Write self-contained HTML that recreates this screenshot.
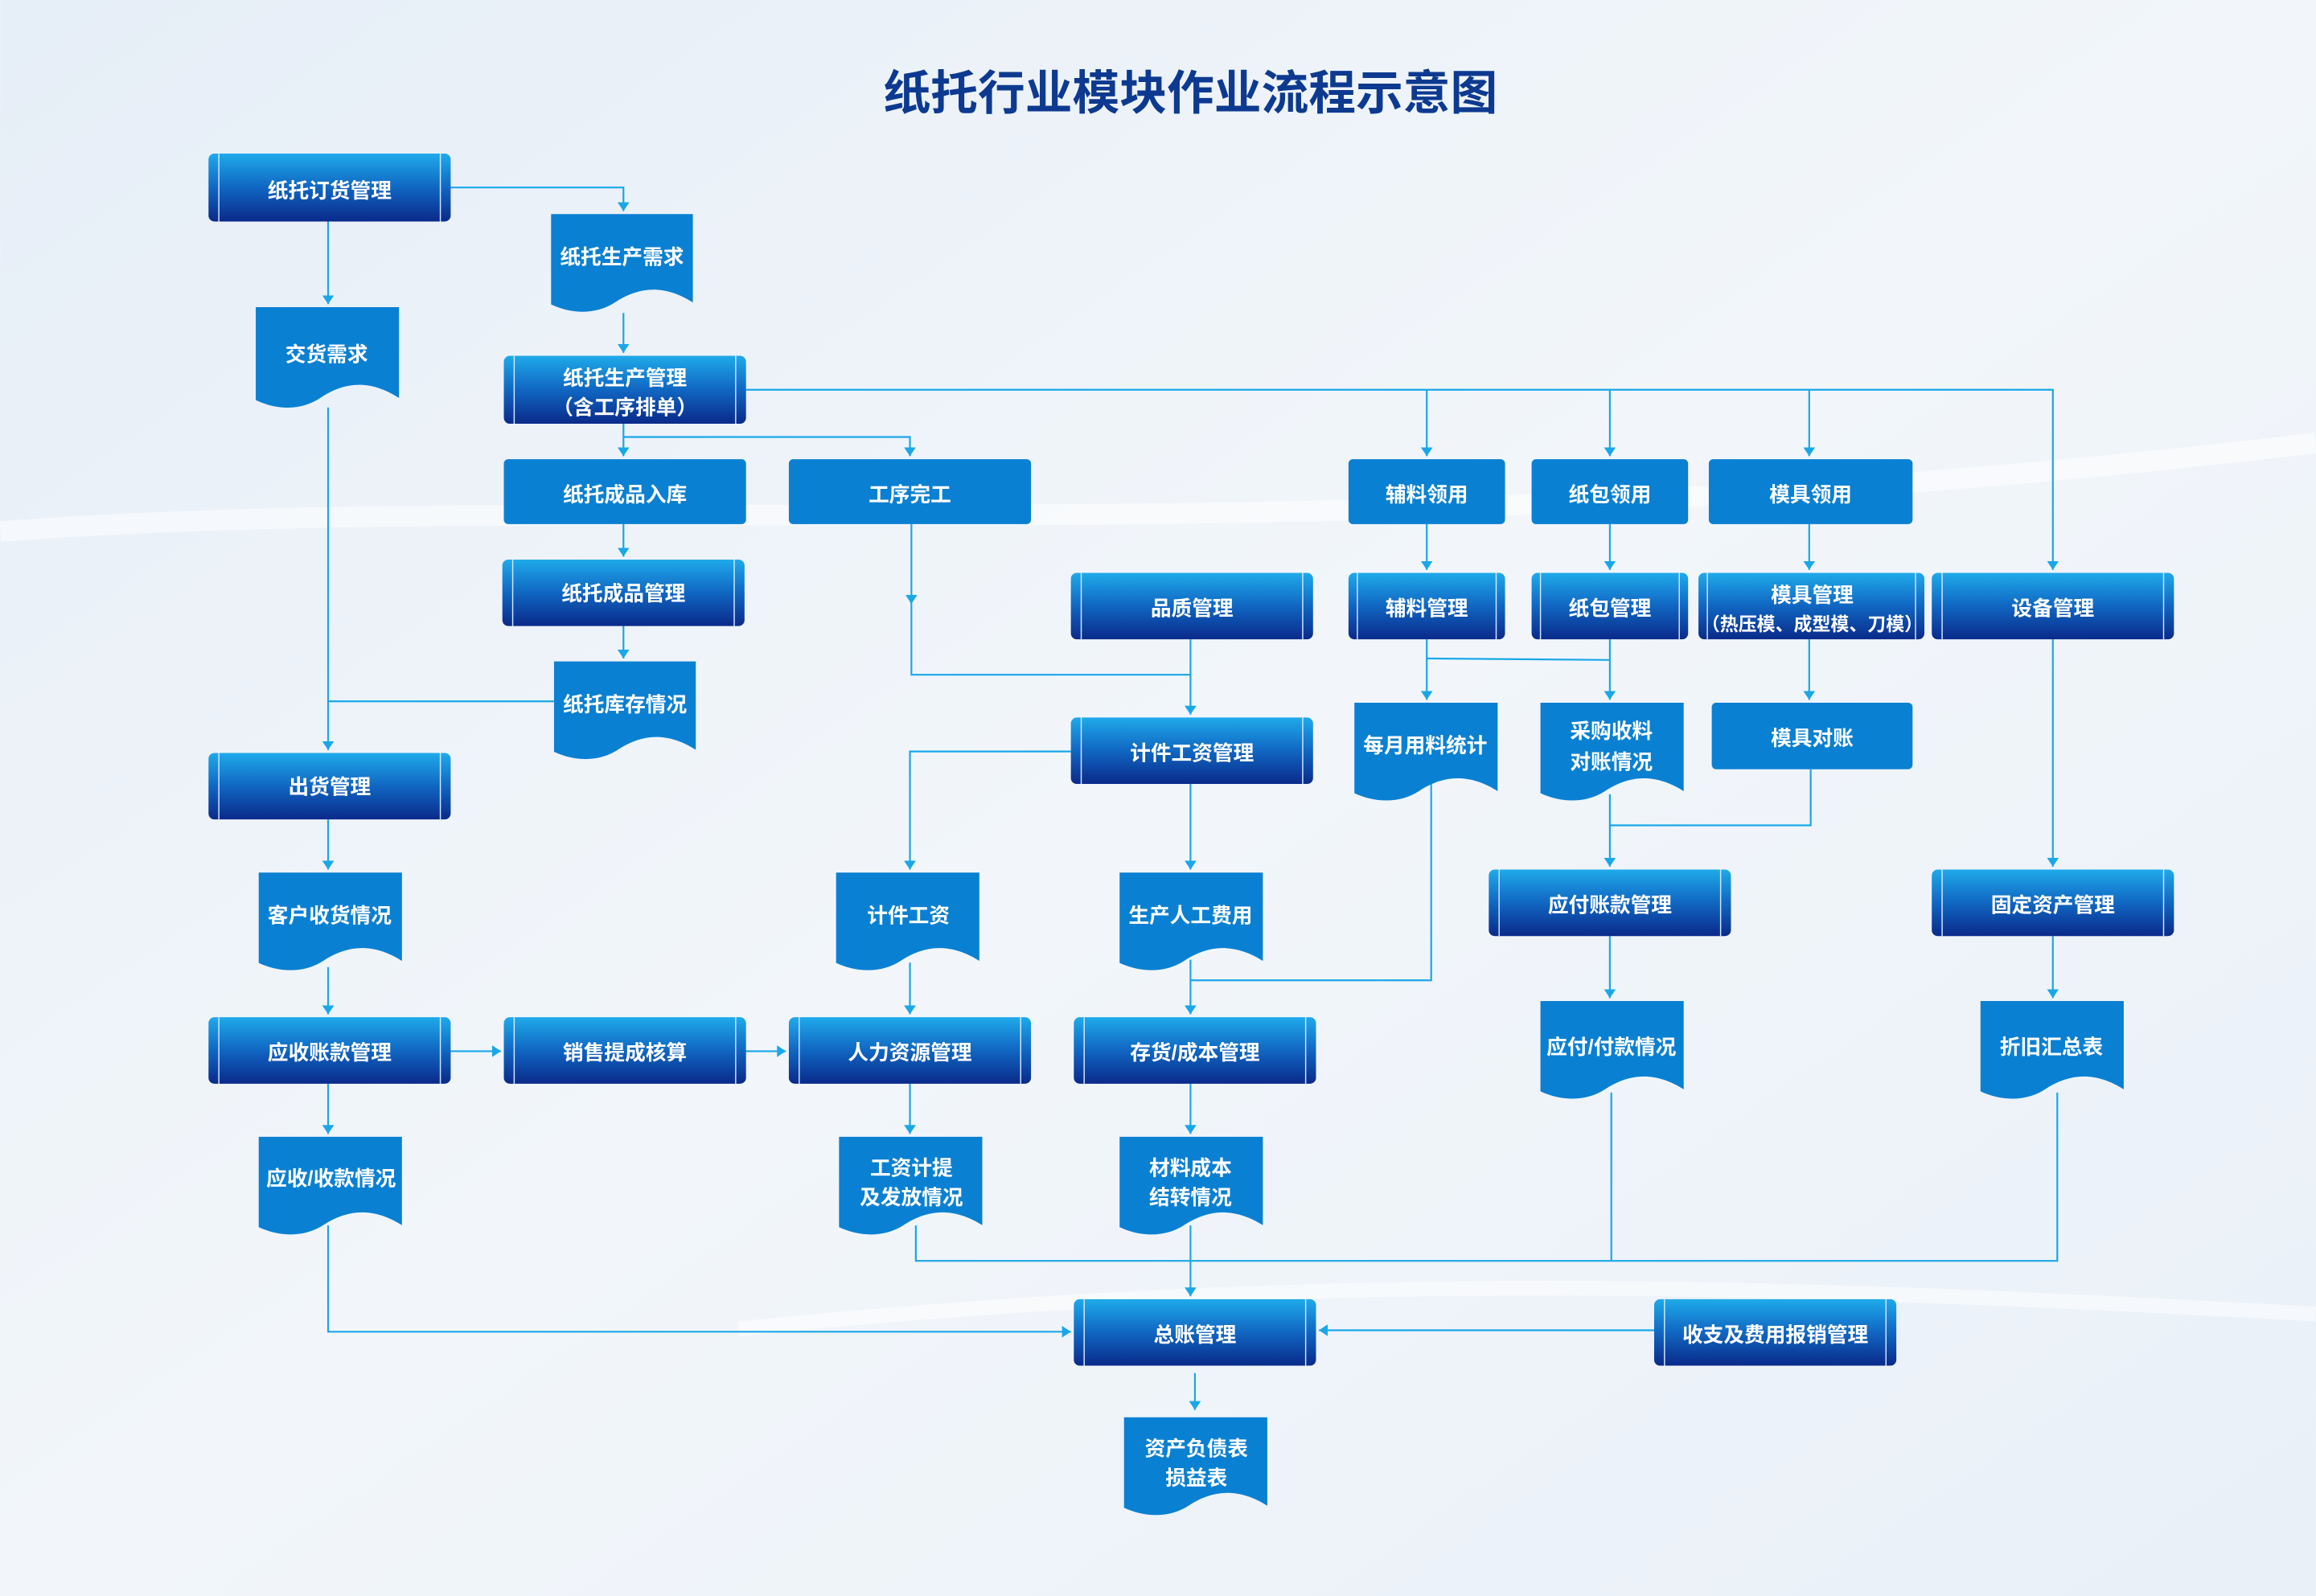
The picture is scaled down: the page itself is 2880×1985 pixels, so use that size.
<!DOCTYPE html>
<html><head><meta charset="utf-8"><style>
html,body{margin:0;padding:0;width:2880px;height:1985px;overflow:hidden;background:#eef3f8}
svg{display:block}
text{font-family:"Liberation Sans","Noto Sans CJK SC",sans-serif;fill:#fff;font-weight:bold;text-anchor:middle;dominant-baseline:central;transform:translateY(1.5px)}
</style></head><body>
<svg width="2880" height="1985" viewBox="0 0 1568 1081" xmlns="http://www.w3.org/2000/svg">
<defs>
<linearGradient id="bg" x1="0" y1="0" x2="1" y2="1">
<stop offset="0" stop-color="#e6eef7"/><stop offset="0.5" stop-color="#f2f6fa"/><stop offset="1" stop-color="#e9f0f8"/>
</linearGradient>
<linearGradient id="pg" x1="0" y1="0" x2="0" y2="1">
<stop offset="0" stop-color="#1faaea"/><stop offset="0.5" stop-color="#1066c2"/><stop offset="1" stop-color="#0a2a8a"/>
</linearGradient>
<marker id="ar" markerWidth="6" markerHeight="8" refX="6" refY="4" orient="auto" markerUnits="userSpaceOnUse">
<path d="M0,0 L6,4 L0,8 Z" fill="#1aa7e8"/>
</marker>
<path id="doc" d="M0,0 H1 V0.88 C0.8,0.7 0.62,0.72 0.45,0.88 C0.32,1.0 0.15,1.0 0,0.9 Z"/>
</defs>
<rect width="1568" height="1081" fill="url(#bg)"/>
<path d="M0,360 C400,330 900,380 1568,300" stroke="#fff" stroke-width="14" fill="none" opacity="0.5"/>
<path d="M500,900 C900,860 1200,870 1568,890" stroke="#fff" stroke-width="10" fill="none" opacity="0.5"/>
<text x="806" y="62" style="fill:#0d3a90;font-size:32px">纸托行业模块作业流程示意图</text>

<g stroke="#1aa7e8" stroke-width="1.2" fill="none">
<polyline points="305,127 422,127 422,143" marker-end="url(#ar)"/>
<polyline points="222,150 222,206" marker-end="url(#ar)"/>
<polyline points="422,212 422,239" marker-end="url(#ar)"/>
<polyline points="505,264 1390,264 1390,386" marker-end="url(#ar)"/>
<polyline points="966,264 966,309" marker-end="url(#ar)"/>
<polyline points="1090,264 1090,309" marker-end="url(#ar)"/>
<polyline points="1225,264 1225,309" marker-end="url(#ar)"/>
<polyline points="422,287 422,309" marker-end="url(#ar)"/>
<polyline points="422,296 616,296 616,309" marker-end="url(#ar)"/>
<polyline points="422,355 422,377" marker-end="url(#ar)"/>
<polyline points="422,424 422,446" marker-end="url(#ar)"/>
<polyline points="617,355 617,409" marker-end="url(#ar)"/>
<polyline points="617,405 617,457 806,457"/>
<polyline points="806,433 806,484" marker-end="url(#ar)"/>
<polyline points="222,276 222,508" marker-end="url(#ar)"/>
<polyline points="375,475 222,475"/>
<polyline points="966,355 966,386" marker-end="url(#ar)"/>
<polyline points="1090,355 1090,386" marker-end="url(#ar)"/>
<polyline points="1225,355 1225,386" marker-end="url(#ar)"/>
<polyline points="966,433 966,474" marker-end="url(#ar)"/>
<polyline points="1090,433 1090,474" marker-end="url(#ar)"/>
<polyline points="966,446 1090,447"/>
<polyline points="1225,433 1225,474" marker-end="url(#ar)"/>
<polyline points="1226,521 1226,559 1090,559"/>
<polyline points="1090,538 1090,587" marker-end="url(#ar)"/>
<polyline points="1390,433 1390,587" marker-end="url(#ar)"/>
<polyline points="725,509 616,509 616,589" marker-end="url(#ar)"/>
<polyline points="806,531 806,589" marker-end="url(#ar)"/>
<polyline points="969,530 969,664 806,664"/>
<polyline points="806,650 806,687" marker-end="url(#ar)"/>
<polyline points="222,555 222,589" marker-end="url(#ar)"/>
<polyline points="222,655 222,687" marker-end="url(#ar)"/>
<polyline points="305,712 339,712" marker-end="url(#ar)"/>
<polyline points="505,712 532,712" marker-end="url(#ar)"/>
<polyline points="616,652 616,687" marker-end="url(#ar)"/>
<polyline points="222,734 222,768" marker-end="url(#ar)"/>
<polyline points="616,734 616,768" marker-end="url(#ar)"/>
<polyline points="806,734 806,768" marker-end="url(#ar)"/>
<polyline points="1090,634 1090,676" marker-end="url(#ar)"/>
<polyline points="1390,634 1390,676" marker-end="url(#ar)"/>
<polyline points="222,830 222,902 725,902" marker-end="url(#ar)"/>
<polyline points="620,830 620,854 1393,854 1393,740"/>
<polyline points="1091,740 1091,854"/>
<polyline points="806,830 806,878" marker-end="url(#ar)"/>
<polyline points="1120,901 893,901" marker-end="url(#ar)"/>
<polyline points="809,930 809,955" marker-end="url(#ar)"/>
</g>

<g>
<rect x="141" y="104" width="164" height="46" rx="4" fill="url(#pg)"/><path d="M148,104V150M298,104V150" stroke="#cfe6ff" stroke-width="0.8"/><text x="223" y="128" font-size="14">纸托订货管理</text>
<rect x="341" y="241" width="164" height="46" rx="4" fill="url(#pg)"/><path d="M348,241V287M498,241V287" stroke="#cfe6ff" stroke-width="0.8"/><text x="423" y="255" font-size="14">纸托生产管理</text><text x="423" y="275" font-size="14">（含工序排单）</text>
<rect x="340" y="379" width="164" height="45" rx="4" fill="url(#pg)"/><path d="M347,379V424M497,379V424" stroke="#cfe6ff" stroke-width="0.8"/><text x="422" y="401" font-size="14">纸托成品管理</text>
<rect x="725" y="388" width="164" height="45" rx="4" fill="url(#pg)"/><path d="M732,388V433M882,388V433" stroke="#cfe6ff" stroke-width="0.8"/><text x="807" y="411" font-size="14">品质管理</text>
<rect x="913" y="388" width="106" height="45" rx="4" fill="url(#pg)"/><path d="M919,388V433M1013,388V433" stroke="#cfe6ff" stroke-width="0.8"/><text x="966" y="411" font-size="14">辅料管理</text>
<rect x="1037" y="388" width="106" height="45" rx="4" fill="url(#pg)"/><path d="M1043,388V433M1137,388V433" stroke="#cfe6ff" stroke-width="0.8"/><text x="1090" y="411" font-size="14">纸包管理</text>
<rect x="1150" y="388" width="153" height="45" rx="4" fill="url(#pg)"/><path d="M1156,388V433M1297,388V433" stroke="#cfe6ff" stroke-width="0.8"/><text x="1227" y="402" font-size="14">模具管理</text><text x="1227" y="421" font-size="12.5">（热压模、成型模、刀模）</text>
<rect x="1308" y="388" width="164" height="45" rx="4" fill="url(#pg)"/><path d="M1315,388V433M1465,388V433" stroke="#cfe6ff" stroke-width="0.8"/><text x="1390" y="411" font-size="14">设备管理</text>
<rect x="141" y="510" width="164" height="45" rx="4" fill="url(#pg)"/><path d="M148,510V555M298,510V555" stroke="#cfe6ff" stroke-width="0.8"/><text x="223" y="532" font-size="14">出货管理</text>
<rect x="725" y="486" width="164" height="45" rx="4" fill="url(#pg)"/><path d="M732,486V531M882,486V531" stroke="#cfe6ff" stroke-width="0.8"/><text x="807" y="509" font-size="14">计件工资管理</text>
<rect x="1008" y="589" width="164" height="45" rx="4" fill="url(#pg)"/><path d="M1015,589V634M1165,589V634" stroke="#cfe6ff" stroke-width="0.8"/><text x="1090" y="612" font-size="14">应付账款管理</text>
<rect x="1308" y="589" width="164" height="45" rx="4" fill="url(#pg)"/><path d="M1315,589V634M1465,589V634" stroke="#cfe6ff" stroke-width="0.8"/><text x="1390" y="612" font-size="14">固定资产管理</text>
<rect x="141" y="689" width="164" height="45" rx="4" fill="url(#pg)"/><path d="M148,689V734M298,689V734" stroke="#cfe6ff" stroke-width="0.8"/><text x="223" y="712" font-size="14">应收账款管理</text>
<rect x="341" y="689" width="164" height="45" rx="4" fill="url(#pg)"/><path d="M348,689V734M498,689V734" stroke="#cfe6ff" stroke-width="0.8"/><text x="423" y="712" font-size="14">销售提成核算</text>
<rect x="534" y="689" width="164" height="45" rx="4" fill="url(#pg)"/><path d="M541,689V734M691,689V734" stroke="#cfe6ff" stroke-width="0.8"/><text x="616" y="712" font-size="14">人力资源管理</text>
<rect x="727" y="689" width="164" height="45" rx="4" fill="url(#pg)"/><path d="M734,689V734M884,689V734" stroke="#cfe6ff" stroke-width="0.8"/><text x="809" y="712" font-size="14">存货/成本管理</text>
<rect x="727" y="880" width="164" height="45" rx="4" fill="url(#pg)"/><path d="M734,880V925M884,880V925" stroke="#cfe6ff" stroke-width="0.8"/><text x="809" y="903" font-size="14">总账管理</text>
<rect x="1120" y="880" width="164" height="45" rx="4" fill="url(#pg)"/><path d="M1127,880V925M1277,880V925" stroke="#cfe6ff" stroke-width="0.8"/><text x="1202" y="903" font-size="14">收支及费用报销管理</text>
</g>

<g fill="#0a80d2">
<rect x="341" y="311" width="164" height="44" rx="3"/><text x="423" y="334" font-size="14">纸托成品入库</text>
<rect x="534" y="311" width="164" height="44" rx="3"/><text x="616" y="334" font-size="14">工序完工</text>
<rect x="913" y="311" width="106" height="44" rx="3"/><text x="966" y="334" font-size="14">辅料领用</text>
<rect x="1037" y="311" width="106" height="44" rx="3"/><text x="1090" y="334" font-size="14">纸包领用</text>
<rect x="1157" y="311" width="138" height="44" rx="3"/><text x="1226" y="334" font-size="14">模具领用</text>
<rect x="1159" y="476" width="136" height="45" rx="3"/><text x="1227" y="499" font-size="14">模具对账</text>
</g>

<g fill="#0a80d2">
<use href="#doc" transform="translate(373,145) scale(96,68)"/><text x="421" y="173" font-size="14">纸托生产需求</text>
<use href="#doc" transform="translate(173,208) scale(97,70)"/><text x="221" y="239" font-size="14">交货需求</text>
<use href="#doc" transform="translate(375,448) scale(96,68)"/><text x="423" y="476" font-size="14">纸托库存情况</text>
<use href="#doc" transform="translate(917,476) scale(97,68)"/><text x="965" y="504" font-size="14">每月用料统计</text>
<use href="#doc" transform="translate(1043,476) scale(97,68)"/><text x="1091" y="494" font-size="14">采购收料</text><text x="1091" y="515" font-size="14">对账情况</text>
<use href="#doc" transform="translate(175,591) scale(97,68)"/><text x="223" y="619" font-size="14">客户收货情况</text>
<use href="#doc" transform="translate(566,591) scale(97,68)"/><text x="615" y="619" font-size="14">计件工资</text>
<use href="#doc" transform="translate(758,591) scale(97,68)"/><text x="806" y="619" font-size="14">生产人工费用</text>
<use href="#doc" transform="translate(1043,678) scale(97,68)"/><text x="1091" y="708" font-size="14">应付/付款情况</text>
<use href="#doc" transform="translate(1341,678) scale(97,68)"/><text x="1389" y="708" font-size="14">折旧汇总表</text>
<use href="#doc" transform="translate(175,770) scale(97,68)"/><text x="224" y="797" font-size="14">应收/收款情况</text>
<use href="#doc" transform="translate(568,770) scale(97,68)"/><text x="617" y="790" font-size="14">工资计提</text><text x="617" y="810" font-size="14">及发放情况</text>
<use href="#doc" transform="translate(758,770) scale(97,68)"/><text x="806" y="790" font-size="14">材料成本</text><text x="806" y="810" font-size="14">结转情况</text>
<use href="#doc" transform="translate(761,960) scale(97,68)"/><text x="810" y="980" font-size="14">资产负债表</text><text x="810" y="1000" font-size="14">损益表</text>
</g>
</svg>
</body></html>
